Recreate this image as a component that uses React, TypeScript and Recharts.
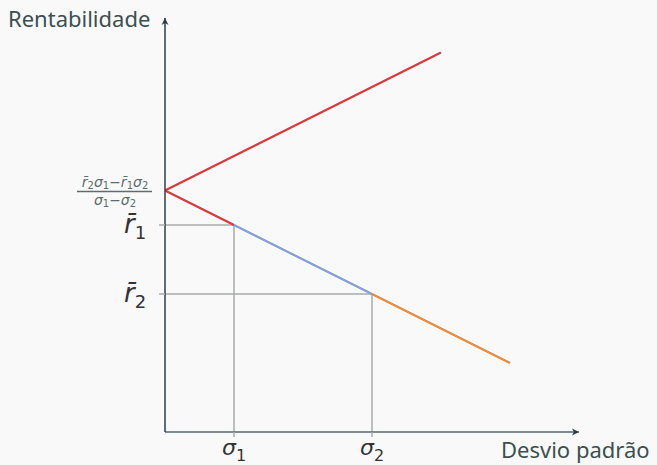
import React from 'react';
import { LineChart, Line, XAxis, YAxis, ReferenceLine, ReferenceDot } from 'recharts';

// Risk (sigma) vs. return for a two-asset portfolio with perfect negative correlation
const upperBranch = [
  { x: 0, y: 3.5 },
  { x: 4, y: 5.5 },
];
const lowerRedBranch = [
  { x: 0, y: 3.5 },
  { x: 1, y: 3 },
];
const mixBranch = [
  { x: 1, y: 3 },
  { x: 3, y: 2 },
];
const leveredBranch = [
  { x: 3, y: 2 },
  { x: 5, y: 1 },
];

const sigmaTicks = [1, 3];
const sigmaLabels = ['1', '2'];
const returnTicks = [2, 3, 3.5];
const returnLabels: Record<number, string> = { 3: '1', 2: '2' };
const intercept = 3.5;

const AXIS = '#2c3e45';
const GUIDE = '#a9abab';
const TEXT = '#3d4f4f';
const MATH = '#333';

const XTick = (props: any) => {
  const { x, y, payload } = props;
  const i = sigmaTicks.indexOf(payload.value);
  return (
    <g>
      <line x1={x} y1={y - 8} x2={x} y2={y - 3} stroke={GUIDE} strokeWidth={1.5} />
      <text
        x={x}
        y={y + 15}
        textAnchor="middle"
        fill={MATH}
        fontFamily="'DejaVu Sans', sans-serif"
        fontStyle="italic"
        fontSize={22}
      >
        σ
        <tspan fontStyle="normal" fontSize={16} dy={6}>
          {sigmaLabels[i]}
        </tspan>
      </text>
    </g>
  );
};

const YTick = (props: any) => {
  const { x, y, payload } = props;
  if (payload.value === intercept) {
    const fs = 14;
    const sub = 10;
    return (
      <g fill="#5b6e6e" fontFamily="'DejaVu Sans', sans-serif">
        <text x={x - 42} y={y - 4} textAnchor="middle" fontSize={fs} fontStyle="italic">
          r̄<tspan fontStyle="normal" fontSize={sub} dy={2}>2</tspan>
          <tspan dy={-2}>σ</tspan>
          <tspan fontStyle="normal" fontSize={sub} dy={2}>1</tspan>
          <tspan fontStyle="normal" dy={-2}>−</tspan>
          <tspan>r̄</tspan>
          <tspan fontStyle="normal" fontSize={sub} dy={2}>1</tspan>
          <tspan dy={-2}>σ</tspan>
          <tspan fontStyle="normal" fontSize={sub} dy={2}>2</tspan>
        </text>
        <line x1={x - 80} y1={y + 1} x2={x - 5} y2={y + 1} stroke="#5b6e6e" strokeWidth={1.3} />
        <text x={x - 42} y={y + 14} textAnchor="middle" fontSize={fs} fontStyle="italic">
          σ<tspan fontStyle="normal" fontSize={sub} dy={2}>1</tspan>
          <tspan fontStyle="normal" dy={-2}>−</tspan>
          <tspan>σ</tspan>
          <tspan fontStyle="normal" fontSize={sub} dy={2}>2</tspan>
        </text>
      </g>
    );
  }
  return (
    <g>
      <line x1={x + 2} y1={y} x2={x + 8} y2={y} stroke={GUIDE} strokeWidth={1.5} />
      <text
        x={x - 22}
        y={y + 8}
        textAnchor="middle"
        fill={MATH}
        fontFamily="'DejaVu Sans', sans-serif"
        fontStyle="italic"
        fontSize={26}
      >
        r̄
        <tspan fontStyle="normal" fontSize={18} dy={6}>
          {returnLabels[payload.value]}
        </tspan>
      </text>
    </g>
  );
};

const ArrowRight = (props: any) => {
  const { cx, cy } = props;
  return <path d={`M${cx - 7},${cy - 3.5} L${cx},${cy} L${cx - 7},${cy + 3.5} L${cx - 5},${cy} Z`} fill={AXIS} />;
};

const ArrowUp = (props: any) => {
  const { cx, cy } = props;
  return <path d={`M${cx - 3.5},${cy + 7} L${cx},${cy} L${cx + 3.5},${cy + 7} L${cx},${cy + 5} Z`} fill={AXIS} />;
};

const App: React.FC = () => {
  return (
    <div
      style={{
        position: 'absolute',
        left: 0,
        top: 0,
        width: 657,
        height: 465,
        background: '#f9f9f9',
        fontFamily: "'Noto Sans', sans-serif",
      }}
    >
      <LineChart width={657} height={465} margin={{ top: 18, right: 78, bottom: 0, left: 0 }}>
        <XAxis
          type="number"
          dataKey="x"
          domain={[0, 6]}
          ticks={sigmaTicks}
          height={33}
          axisLine={{ stroke: '#56676b', strokeWidth: 1.5 }}
          tickLine={false}
          tick={<XTick />}
          allowDataOverflow
        />
        <YAxis
          type="number"
          dataKey="y"
          domain={[0, 6]}
          ticks={returnTicks}
          width={165}
          axisLine={{ stroke: AXIS, strokeWidth: 1.5 }}
          tickLine={false}
          tick={<YTick />}
          interval={0}
          allowDataOverflow
        />
        <ReferenceLine segment={[{ x: 0, y: 3 }, { x: 1, y: 3 }]} stroke={GUIDE} strokeWidth={1.5} />
        <ReferenceLine segment={[{ x: 1, y: 0 }, { x: 1, y: 3 }]} stroke={GUIDE} strokeWidth={1.5} />
        <ReferenceLine segment={[{ x: 0, y: 2 }, { x: 3, y: 2 }]} stroke={GUIDE} strokeWidth={1.5} />
        <ReferenceLine segment={[{ x: 3, y: 0 }, { x: 3, y: 2 }]} stroke={GUIDE} strokeWidth={1.5} />
        <Line data={mixBranch} dataKey="y" stroke="#7f9fd8" strokeWidth={2.2} dot={false} isAnimationActive={false} />
        <Line data={leveredBranch} dataKey="y" stroke="#e8893a" strokeWidth={2.2} dot={false} isAnimationActive={false} />
        <Line data={upperBranch} dataKey="y" stroke="#d8393f" strokeWidth={2.2} dot={false} isAnimationActive={false} />
        <Line data={lowerRedBranch} dataKey="y" stroke="#d8393f" strokeWidth={2.2} dot={false} isAnimationActive={false} />
        <ReferenceDot x={6} y={0} r={0} shape={<ArrowRight />} ifOverflow="visible" />
        <ReferenceDot x={0} y={6} r={0} shape={<ArrowUp />} ifOverflow="visible" />
      </LineChart>
      <div style={{ position: 'absolute', left: 8, top: 3, fontSize: 22, color: TEXT }}>Rentabilidade</div>
      <div style={{ position: 'absolute', left: 501, top: 434, fontSize: 22, color: TEXT }}>Desvio padrão</div>
    </div>
  );
};

export default App;
